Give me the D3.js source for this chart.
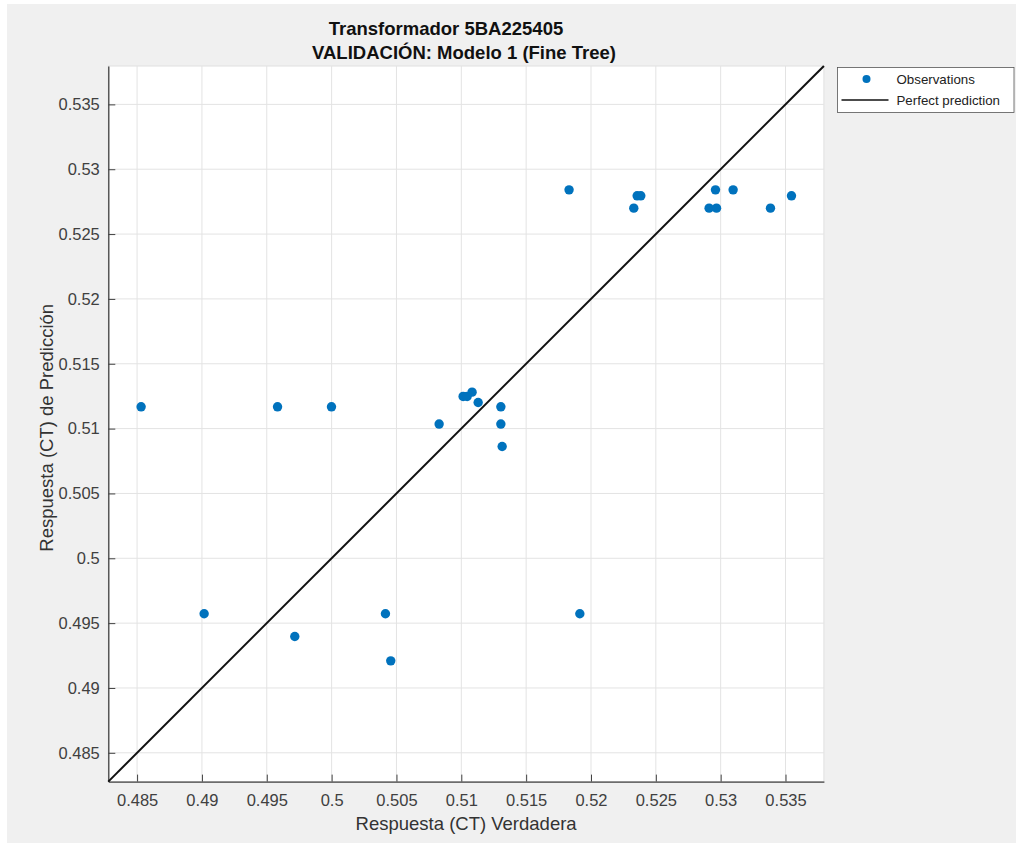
<!DOCTYPE html>
<html lang="en">
<head>
    <meta charset="UTF-8">
    <title>Transformador 5BA225405 - Validación</title>
    <script src="https://cdn.jsdelivr.net/npm/d3@7"></script>
    <style>
        body {
            margin: 0;
            background: #ffffff;
        }
        text {
            font-family: "Liberation Sans", Arial, sans-serif;
        }
    </style>
</head>
<body>
<script>
    const width  = 1016;
    const height = 843;

    // Observations: true response (x) and predicted response (y)
    const trueCT = [0.48531, 0.49017, 0.49583, 0.49716, 0.49999, 0.50415, 0.50456,
                    0.50829, 0.51014, 0.51045, 0.51083, 0.51130, 0.51305, 0.51305,
                    0.51315, 0.51831, 0.51914, 0.52330, 0.52356, 0.52384, 0.52911,
                    0.52968, 0.52960, 0.53096, 0.53384, 0.53546];
    const predCT = [0.51168, 0.49572, 0.51168, 0.49397, 0.51168, 0.49572, 0.49209,
                    0.51035, 0.51248, 0.51248, 0.51281, 0.51201, 0.51168, 0.51035,
                    0.50862, 0.52841, 0.49572, 0.52700, 0.52795, 0.52795, 0.52700,
                    0.52700, 0.52841, 0.52841, 0.52700, 0.52795];

    const ticks = [0.485, 0.49, 0.495, 0.5, 0.505, 0.51, 0.515, 0.52, 0.525, 0.53, 0.535];
    const domain = [0.48278, 0.53796];

    const titleLines = ["Transformador 5BA225405", "VALIDACIÓN: Modelo 1 (Fine Tree)"];
    const legendItems = ["Observations", "Perfect prediction"];

    const plot = {left: 108.3, top: 66, size: 715.6};

    const x = d3.scaleLinear().domain(domain).range([plot.left, plot.left + plot.size]);
    const y = d3.scaleLinear().domain(domain).range([plot.top + plot.size, plot.top]);

    const fmt = d => String(+d.toFixed(3));

    const svg = d3.select("body").append("svg")
        .attr("width", width).attr("height", height);

    // figure background
    svg.append("rect")
        .attr("x", 7).attr("y", 4)
        .attr("width", width - 7).attr("height", height - 4)
        .attr("fill", "#f0f0f0");

    // axes background
    svg.append("rect")
        .attr("x", plot.left).attr("y", plot.top)
        .attr("width", plot.size).attr("height", plot.size)
        .attr("fill", "#ffffff")
        .attr("stroke", "#e0e0e0");

    // grid
    const grid = svg.append("g").attr("stroke", "#e3e3e3").attr("stroke-width", 1);
    grid.selectAll(".vg").data(ticks).join("line")
        .attr("x1", d => x(d)).attr("x2", d => x(d))
        .attr("y1", plot.top).attr("y2", plot.top + plot.size);
    grid.selectAll(".hg").data(ticks).join("line")
        .attr("y1", d => y(d)).attr("y2", d => y(d))
        .attr("x1", plot.left).attr("x2", plot.left + plot.size);

    // axes (ticks point inward)
    const xAxis = svg.append("g")
        .attr("transform", `translate(0,${plot.top + plot.size})`)
        .call(d3.axisBottom(x).tickValues(ticks).tickFormat(fmt).tickSizeInner(-7).tickSizeOuter(0).tickPadding(12.5));
    const yAxis = svg.append("g")
        .attr("transform", `translate(${plot.left},0)`)
        .call(d3.axisLeft(y).tickValues(ticks).tickFormat(fmt).tickSizeInner(-7).tickSizeOuter(0).tickPadding(8.5));

    [xAxis, yAxis].forEach(a => {
        a.select(".domain").attr("stroke", "#404040").attr("stroke-width", 1.3);
        a.selectAll(".tick line").attr("stroke", "#404040");
        a.selectAll(".tick text")
            .attr("fill", "#404040")
            .style("font-size", "16.5px")
            .style("font-family", "'Liberation Sans', Arial, sans-serif");
    });

    // perfect prediction line
    svg.append("line")
        .attr("x1", x(domain[0])).attr("y1", y(domain[0]))
        .attr("x2", x(domain[1])).attr("y2", y(domain[1]))
        .attr("stroke", "#111111")
        .attr("stroke-width", 2);

    // observations
    svg.append("g").selectAll("circle")
        .data(trueCT.map((d, i) => [d, predCT[i]]))
        .join("circle")
        .attr("cx", d => x(d[0]))
        .attr("cy", d => y(d[1]))
        .attr("r", 4.7)
        .attr("fill", "#0072bd");

    // titles
    svg.append("text")
        .attr("x", 446).attr("y", 35)
        .attr("text-anchor", "middle")
        .attr("font-size", 18.5).attr("font-weight", "bold").attr("fill", "#111")
        .text(titleLines[0]);
    svg.append("text")
        .attr("x", 464).attr("y", 58.5)
        .attr("text-anchor", "middle")
        .attr("font-size", 18.5).attr("font-weight", "bold").attr("fill", "#111")
        .text(titleLines[1]);

    // axis labels
    svg.append("text")
        .attr("x", plot.left + plot.size / 2).attr("y", 830)
        .attr("text-anchor", "middle")
        .attr("font-size", 18.5).attr("fill", "#333")
        .text("Respuesta (CT) Verdadera");
    svg.append("text")
        .attr("transform", `translate(53,${plot.top + plot.size / 2 + 4}) rotate(-90)`)
        .attr("text-anchor", "middle")
        .attr("font-size", 18.5).attr("fill", "#333")
        .text("Respuesta (CT) de Predicción");

    // legend
    const lg = svg.append("g").attr("transform", "translate(837.5,67.5)");
    lg.append("rect")
        .attr("width", 176.5).attr("height", 45)
        .attr("fill", "#ffffff").attr("stroke", "#555").attr("stroke-width", 0.8);
    lg.append("circle")
        .attr("cx", 29).attr("cy", 11.5).attr("r", 4)
        .attr("fill", "#0072bd");
    lg.append("line")
        .attr("x1", 4).attr("x2", 51)
        .attr("y1", 32.5).attr("y2", 32.5)
        .attr("stroke", "#111").attr("stroke-width", 1.5);
    lg.selectAll(".lt").data(legendItems).join("text")
        .attr("x", 59)
        .attr("y", (d, i) => 16.5 + i * 21)
        .attr("font-size", 13.3).attr("fill", "#222")
        .text(d => d);
</script>
</body>
</html>
